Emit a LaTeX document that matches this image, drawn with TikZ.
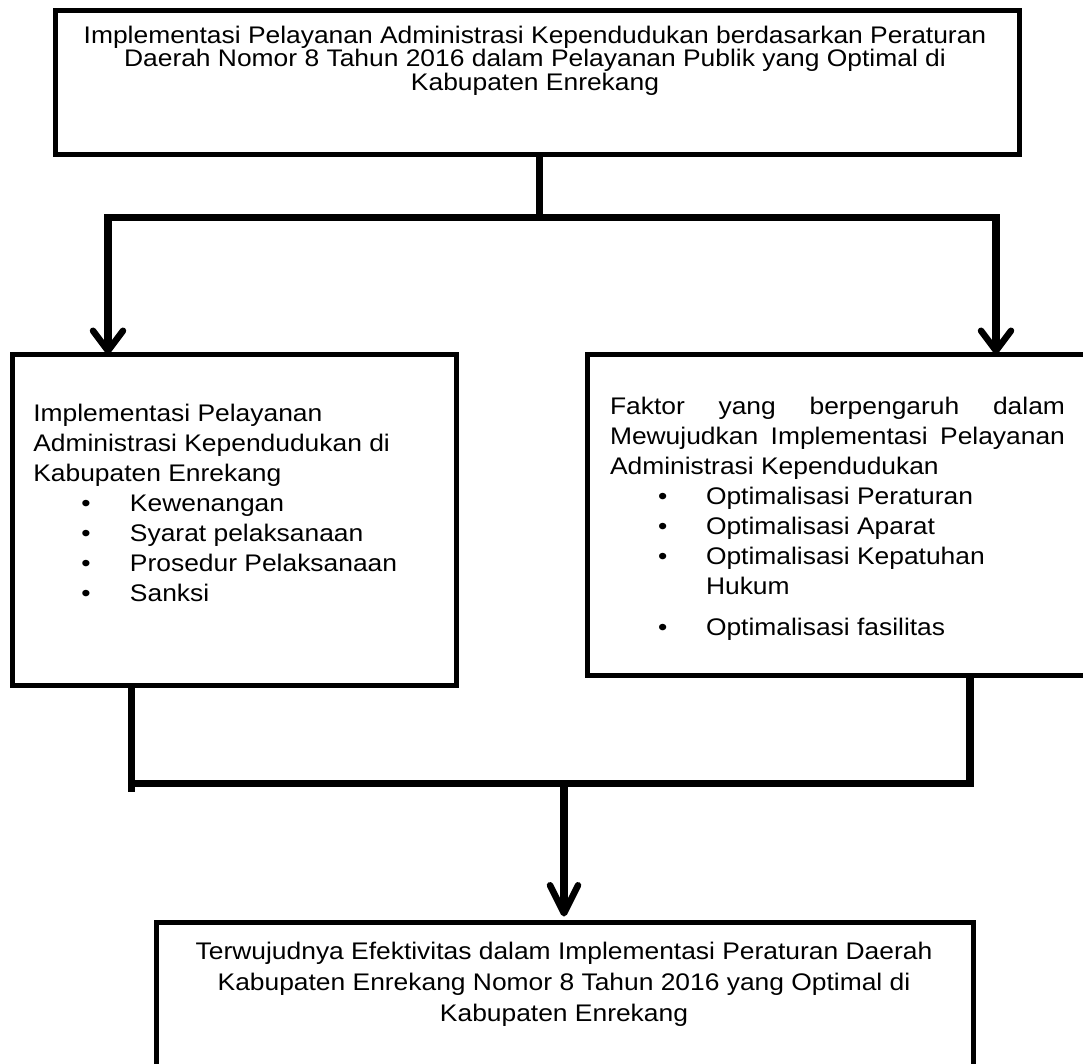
\documentclass[tikz,border=0pt]{standalone}
\usepackage{fontspec}
\setmainfont{Liberation Sans}[FakeStretch=1.1]
\usetikzlibrary{arrows.meta}
\begin{document}
\begin{tikzpicture}[x=1pt,y=-1pt,
  box/.style={draw, line width=5pt, inner sep=0pt, outer sep=0pt, anchor=north west},
  conn/.style={line width=7.5pt, line join=miter},
  arrA/.style={-{Straight Barb[length=20pt,width=30pt,line width=6.5pt,round]}},
  arrB/.style={-{Straight Barb[length=28pt,width=28pt,line width=6.5pt,round]}},
  txt/.style={inner sep=0pt, outer sep=0pt, font={\fontsize{24}{30}\selectfont\lineskiplimit=-50pt}},
]
\useasboundingbox (0,0) rectangle (1083,1063);
\fill[white] (0,0) rectangle (1083,1063);
\clip (0,0) rectangle (1083,1063);

% boxes
\node[box, minimum width=964pt, minimum height=144pt] (topbox) at (55,10) {};
\node[box, minimum width=443.5pt, minimum height=331pt] (lbox) at (12.5,354) {};
\node[box, minimum width=510pt, minimum height=321pt] (rbox) at (587.5,354) {};
\node[box, minimum width=817pt, minimum height=200pt] (bbox) at (156,922.5) {};

% texts
\node[txt, anchor=north, align=center, font={\fontsize{24}{23.8}\selectfont\lineskiplimit=-50pt}] (toptext) at (535,23)
 {\rule{0pt}{20pt}Implementasi Pelayanan Administrasi Kependudukan berdasarkan Peraturan\\
  Daerah Nomor 8 Tahun 2016 dalam Pelayanan Publik yang Optimal di\\
  Kabupaten Enrekang};

\node[txt, anchor=north west] (ltext) at (33.3,401.7) {\vbox{\baselineskip=30pt\lineskiplimit=-50pt
  \hbox{\rule{0pt}{20pt}Implementasi Pelayanan}
  \hbox{Administrasi Kependudukan di}
  \hbox{Kabupaten Enrekang}
  \hbox{\hspace*{48pt}\makebox[48.7pt][l]{\textbullet}Kewenangan}
  \hbox{\hspace*{48pt}\makebox[48.7pt][l]{\textbullet}Syarat pelaksanaan}
  \hbox{\hspace*{48pt}\makebox[48.7pt][l]{\textbullet}Prosedur Pelaksanaan}
  \hbox{\hspace*{48pt}\makebox[48.7pt][l]{\textbullet}Sanksi}}};

\node[txt, anchor=north west] (rtext) at (610,394) {\vbox{\hsize=455pt\baselineskip=30pt\lineskiplimit=-50pt
  \hbox to 455pt{\rule{0pt}{20pt}Faktor\hfill yang\hfill berpengaruh\hfill dalam}
  \hbox to 455pt{Mewujudkan\hfill Implementasi\hfill Pelayanan}
  \hbox{Administrasi Kependudukan}
  \hbox{\hspace*{48pt}\makebox[48pt][l]{\textbullet}Optimalisasi Peraturan}
  \hbox{\hspace*{48pt}\makebox[48pt][l]{\textbullet}Optimalisasi Aparat}
  \hbox{\hspace*{48pt}\makebox[48pt][l]{\textbullet}Optimalisasi Kepatuhan}
  \hbox{\hspace*{96pt}Hukum}
  \vskip 11pt
  \hbox{\hspace*{48pt}\makebox[48pt][l]{\textbullet}Optimalisasi fasilitas}}};

\node[txt, anchor=north, align=center, font={\fontsize{24}{31}\selectfont\lineskiplimit=-50pt}] (btext) at (564,939)
 {\rule{0pt}{20pt}Terwujudnya Efektivitas dalam Implementasi Peraturan Daerah\\
  Kabupaten Enrekang Nomor 8 Tahun 2016 yang Optimal di\\
  Kabupaten Enrekang};

% connector coordinates
\coordinate (j1) at (539.5,217.5);
\coordinate (la) at (108,217.5);
\coordinate (ra) at (996,217.5);
\coordinate (bl) at (131.5,783.5);
\coordinate (br) at (970,783.5);
\coordinate (bm) at (564,783.5);

% top split
\draw[conn] (topbox.south -| j1) -- (j1);
\draw[conn, arrA] (j1) -| (la |- lbox.north);
\draw[conn, arrA] (j1) -| (ra |- rbox.north);

% bottom merge
\draw[conn] (lbox.south -| bl) -- ++(0,107);
\draw[conn] (bl) -- (br) -- (rbox.south -| br);
\draw[conn, arrB, shorten >=6pt] (bm) -- (bbox.north -| bm);
\end{tikzpicture}
\end{document}
